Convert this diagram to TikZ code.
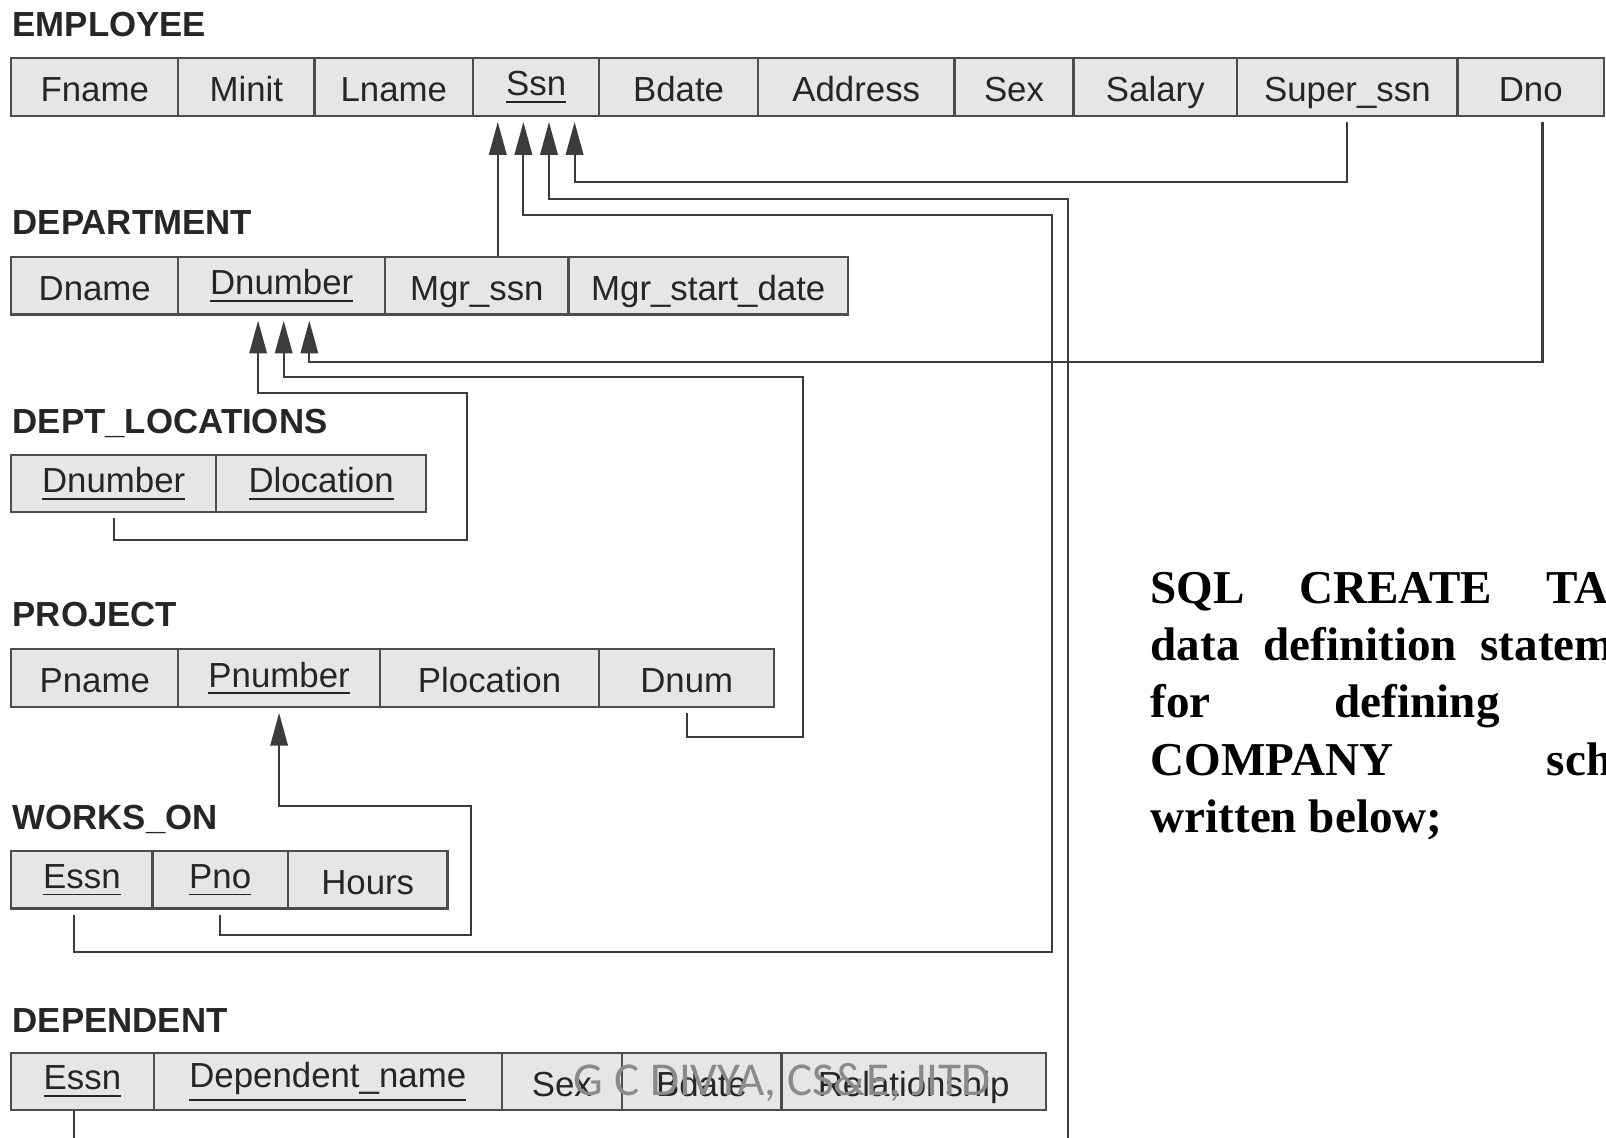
\documentclass[tikz,border=0pt]{standalone}
\usepackage{fontspec}
\setmainfont{Liberation Sans}
\newfontfamily\bodyserif{Liberation Serif}
\newfontfamily\markfont{Carlito}
\usetikzlibrary{arrows.meta}

\definecolor{cellfill}{HTML}{E6E6E6}
\definecolor{celledge}{HTML}{4D4D4D}
\definecolor{linkgray}{HTML}{3C3C3C}
\definecolor{inkgray}{HTML}{262626}
\definecolor{markgray}{HTML}{8A8A8A}

\newcommand{\pk}[1]{\vtop{\hbox{#1}\kern2.5pt\hrule height 0.9pt}}

\tikzstyle{cell}=[draw=celledge,fill=cellfill,line width=1.1pt,minimum height=28pt,inner sep=0pt,text=inkgray,font=\fontsize{17pt}{20pt}\selectfont]
\tikzstyle{attr}=[cell,text height=14.2pt,text depth=0pt]
\tikzstyle{key}=[cell]
\tikzstyle{relation}=[anchor=base west,inner sep=0pt,text=inkgray,font=\fontsize{17pt}{20pt}\selectfont\bfseries]
\tikzstyle{sqltext}=[anchor=base west,inner sep=0pt,font=\bodyserif\bfseries\fontsize{23pt}{28pt}\selectfont]
\tikzstyle{fk}=[draw=linkgray,line width=1pt,->,shorten >=2.5pt]

\begin{document}
\begin{tikzpicture}[x=0.5pt, y=-0.5pt, >={Triangle[length=16pt,width=8.5pt]}]
		\useasboundingbox (0,0) rectangle (1568,1111);

		\node [relation] (employee) at (12,36)   {EMPLOYEE};
		\node [attr, minimum width=81.5pt]  (efname)   at (92.5,85)   {Fname};
		\node [attr, minimum width=66.5pt]  (eminit)   at (240.5,85)  {Minit};
		\node [attr, minimum width=77.5pt]  (elname)   at (384.5,85)  {Lname};
		\node [key,  minimum width=61.5pt]  (essn)     at (523.5,85)  {\pk{Ssn}};
		\node [attr, minimum width=77.5pt]  (ebdate)   at (662.5,85)  {Bdate};
		\node [attr, minimum width=96pt]    (eaddr)    at (836,85)    {Address};
		\node [attr, minimum width=58pt]    (esex)     at (990,85)    {Sex};
		\node [attr, minimum width=80pt]    (esalary)  at (1128,85)   {Salary};
		\node [attr, minimum width=107.5pt] (esuper)   at (1315.5,85) {Super\_ssn};
		\node [attr, minimum width=71.5pt]  (edno)     at (1494.5,85) {Dno};

		\node [relation] (department) at (12,229) {DEPARTMENT};
		\node [attr, minimum width=81.5pt]  (ddname)   at (92.5,279)  {Dname};
		\node [key,  minimum width=101pt]   (ddnumber) at (275,279)   {\pk{Dnumber}};
		\node [attr, minimum width=89.5pt]  (dmgr)     at (465.5,279) {Mgr\_ssn};
		\node [attr, minimum width=136.5pt] (dmgrdate) at (691.5,279) {Mgr\_start\_date};

		\node [relation] (deptloc) at (12,423)  {DEPT\_LOCATIONS};
		\node [key,  minimum width=100pt]   (ldnumber) at (111,472)   {\pk{Dnumber}};
		\node [key,  minimum width=102.5pt] (ldloc)    at (313.5,472) {\pk{Dlocation}};

		\node [relation] (project) at (12,612)  {PROJECT};
		\node [attr, minimum width=81.5pt]  (ppname)   at (92.5,662)  {Pname};
		\node [key,  minimum width=98.5pt]  (ppnumber) at (272.5,662) {\pk{Pnumber}};
		\node [attr, minimum width=107pt]   (pploc)    at (478,662)   {Plocation};
		\node [attr, minimum width=85.5pt]  (pdnum)    at (670.5,662) {Dnum};

		\node [relation] (workson) at (12,810)  {WORKS\_ON};
		\node [key,  minimum width=69pt]    (wessn)    at (80,859)    {\pk{Essn}};
		\node [key,  minimum width=66pt]    (wpno)     at (215,859)   {\pk{Pno}};
		\node [attr, minimum width=78pt]    (whours)   at (359,859)   {Hours};

		\node [relation] (dependent) at (12,1008) {DEPENDENT};
		\node [key,  minimum width=69.5pt]  (tessn)    at (80.5,1056) {\pk{Essn}};
		\node [key,  minimum width=170pt]   (tname)    at (320,1056)  {\pk{Dependent\_name}};
		\node [attr, minimum width=58.5pt]  (tsex)     at (548.5,1056) {Sex};
		\node [attr, minimum width=78pt]    (tbdate)   at (685,1056)  {Bdate};
		\node [attr, minimum width=129pt]   (trel)     at (892,1056)  {Relationship};

		\draw [fk] ([xshift=10.25pt]dmgr.north) -- ([xshift=-18.75pt]essn.south);
		\draw [fk, shorten <=2.5pt] (esuper.south) -- ++(0,64) -| ([xshift=18.75pt]essn.south);
		\draw [fk] ([xshift=-4pt]tessn.south) -- ++(0,60) -| (1043,194) -| ([xshift=6.25pt]essn.south);
		\draw [fk, shorten <=2.5pt] ([xshift=-4pt]wessn.south) -- ++(0,41) -| (1027,210) -| ([xshift=-6.25pt]essn.south);
		\draw [fk, shorten <=2.5pt] ([xshift=5.75pt]edno.south) -- ++(0,239) -| ([xshift=13.5pt]ddnumber.south);
		\draw [fk, shorten <=2.5pt] (pdnum.south) -- ++(0,28) -| (784,368) -| ([xshift=1pt]ddnumber.south);
		\draw [fk, shorten <=2.5pt] (ldnumber.south) -- ++(0,26) -| (456,384) -| ([xshift=-11.5pt]ddnumber.south);
		\draw [fk, shorten <=2.5pt] (wpno.south) -- ++(0,25) -| (460,787) -| (ppnumber.south);

		\node [sqltext] (line1) at (1123,589) {SQL\hspace{26.5pt}CREATE\hspace{26.5pt}TA};
		\node [sqltext] (line2) at (1123,645) {data\hspace{11.5pt}definition\hspace{11.5pt}statem};
		\node [sqltext] (line3) at (1123,701) {for\hspace{60.5pt}defining};
		\node [sqltext] (line4) at (1123,757) {COMPANY\hspace{75pt}sch};
		\node [sqltext] (line5) at (1123,813) {written below;};

		\node [anchor=base west, inner sep=0pt, text=markgray, font=\markfont\fontsize{23pt}{28pt}\selectfont] (mark) at (560,1070) {G C DIVYA, CS\&E, JITD};
	\end{tikzpicture}
\end{document}
